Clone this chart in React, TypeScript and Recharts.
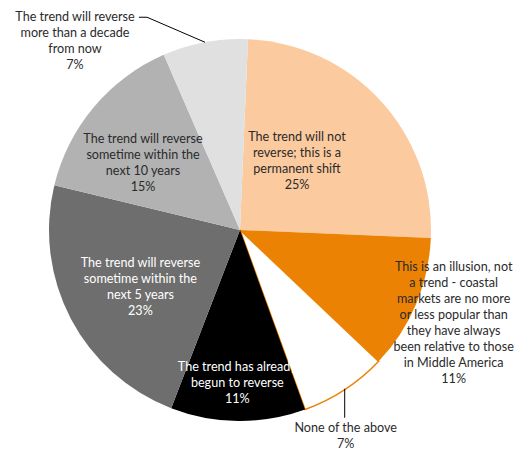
import React from 'react';
import { Cell, Pie, PieChart } from 'recharts';

// answers, in the order the slices run clockwise from the top
const categories = [
  'The trend will not\nreverse; this is a\npermanent shift',
  'This is an illusion, not\na trend - coastal\nmarkets are no more\nor less popular than\nthey have always\nbeen relative to those\nin Middle America',
  'None of the above',
  'The trend has already\nbegun to reverse',
  'The trend will reverse\nsometime within the\nnext 5 years',
  'The trend will reverse\nsometime within the\nnext 10 years',
  'The trend will reverse\nmore than a decade\nfrom now',
];
// shares; the labels show them rounded
const shares = [25.0, 11.4, 7.4, 11.4, 22.9, 14.7, 7.2];

const fills = ['#FBCA9F', '#EC8204', '#FFFFFF', '#000000', '#6E6E6E', '#B2B2B2', '#E0E0E0'];
const inks = ['#2b2b2b', '#2b2b2b', '#2b2b2b', '#FFFFFF', '#FFFFFF', '#2b2b2b', '#2b2b2b'];
// where each label sits: inside at a share of the radius, or outside with a leader
const spots: any[] = [
  { r: 0.47, turn: 8 },
  { r: 1.22, turn: -0.6 },
  { side: 'below' },
  { r: 0.8, turn: -0.4 },
  { r: 0.6, turn: 2 },
  { r: 0.62, turn: 5 },
  { side: 'left' },
];

const data = categories.map((name, i) => ({ name, value: shares[i] }));

const LINE = 16;
const RAD = Math.PI / 180;

const Block = ({ x, y, lines, fill }: any) => (
  <text x={x} y={y} fill={fill} textAnchor='middle' fontSize={12.6} fontFamily='Lato, sans-serif'>
    {lines.map((l: string, k: number) => (
      <tspan key={k} x={x} y={y + k * LINE} dominantBaseline='central'>
        {l}
      </tspan>
    ))}
  </text>
);

const renderLabel = (props: any) => {
  const { cx, cy, midAngle, outerRadius, index, value, name } = props;
  const spot = spots[index];
  const lines = [...name.split('\n'), `${Math.round(value)}%`];
  const ax = cx + outerRadius * Math.cos(-midAngle * RAD);
  const ay = cy + outerRadius * Math.sin(-midAngle * RAD);

  if (spot.side === 'left') {
    return (
      <g>
        <polyline
          points={`${ax},${ay} ${ax - 58},${ay - 25} ${ax - 66},${ay - 25}`}
          fill='none'
          stroke='#000'
          strokeWidth={1}
        />
        <Block x={ax - 130} y={ay - 26} lines={lines} fill={inks[index]} />
      </g>
    );
  }
  if (spot.side === 'below') {
    return (
      <g>
        <line x1={ax} y1={ay - 1} x2={ax} y2={ay + 28} stroke='#000' strokeWidth={1} />
        <Block x={ax + 1} y={ay + 38} lines={lines} fill={inks[index]} />
      </g>
    );
  }
  const a = (midAngle + spot.turn) * RAD;
  const x = cx + outerRadius * spot.r * Math.cos(-a);
  const y = cy + outerRadius * spot.r * Math.sin(-a) - ((lines.length - 1) * LINE) / 2;
  return <Block x={x} y={y} lines={lines} fill={inks[index]} />;
};

export default function App() {
  return (
    <div style={{ position: 'absolute', left: 0, top: 0 }}>
      <PieChart width={524} height={453} margin={{ top: 0, right: 0, bottom: 0, left: 0 }}>
        <Pie
          data={data}
          dataKey='value'
          nameKey='name'
          cx={240}
          cy={230}
          outerRadius={191}
          startAngle={87.6}
          endAngle={-272.4}
          label={renderLabel}
          labelLine={false}
          isAnimationActive={false}
        >
          {data.map((d, i) => (
            <Cell
              key={d.name}
              fill={fills[i]}
              stroke={fills[i] === '#FFFFFF' ? '#EC8204' : 'none'}
              strokeWidth={1.5}
            />
          ))}
        </Pie>
      </PieChart>
    </div>
  );
}
